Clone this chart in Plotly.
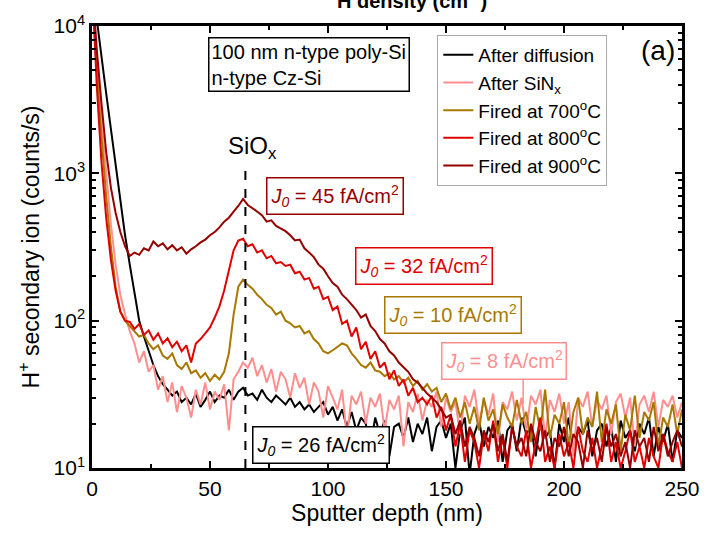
import plotly.graph_objects as go

# Sputter depth grid (nm)
depth = list(range(0, 251, 2))

after_diffusion = [
    20000, 11500, 6300, 3500, 2000, 1150, 640, 380, 240, 150,
    100, 78, 62, 50, 42, 37, 34, 31, 33, 28,
    30, 27, 32, 26, 29, 33, 28, 31, 30, 34,
    29, 33, 35, 31, 32, 29, 34, 30, 28, 31,
    29, 27, 30, 26, 28, 25, 27, 24, 26, 28,
    23, 26, 21, 25, 19, 24, 18, 22, 20, 14,
    22, 17, 21, 12, 19, 20, 16, 22, 15, 20,
    17, 22, 13, 19, 21, 16, 20, 10, 18, 22,
    9, 17, 21, 14, 19, 16, 21, 11, 18, 20,
    13, 22, 17, 19, 12, 21, 16, 18, 10, 20,
    15, 22, 13, 19, 17, 21, 12, 18, 20, 14,
    19, 11, 21, 16, 18, 13, 20, 17, 22, 12,
    19, 15, 20, 11, 18, 16]

after_sinx = [
    20000, 6000, 2300, 950, 450, 240, 150, 110, 85, 70,
    52, 62, 45, 50, 34, 42, 28, 38, 24, 36,
    30, 22, 34, 27, 38, 25, 33, 29, 37, 18,
    40, 45, 52, 48, 56, 42, 50, 38, 47, 33,
    45, 40, 30, 44, 35, 41, 27, 38, 33, 22,
    36, 30, 25, 34, 16, 31, 27, 33, 20, 30,
    26, 32, 18, 29, 25, 31, 14, 28, 24, 32,
    21, 29, 26, 33, 19, 30, 24, 28, 17, 31,
    26, 34, 20, 29, 23, 32, 15, 28, 25, 33,
    21, 30, 18, 31, 27, 34, 16, 29, 24, 32,
    20, 28, 12, 30, 26, 33, 19, 29, 25, 31,
    17, 28, 32, 22, 30, 14, 27, 31, 24, 33,
    19, 29, 26, 31, 22, 28]

fired_700 = [
    20000, 5000, 1800, 700, 320, 170, 115, 100, 92, 85,
    78, 80, 70, 64, 68, 58, 55, 60, 50, 47,
    52, 44, 46, 41, 44, 39, 43, 40, 45, 60,
    110, 170, 190, 175, 165, 150, 140, 128, 122, 110,
    115, 100, 96, 90, 92, 82, 85, 75, 70, 62,
    60, 63, 66, 70, 68, 60, 55, 50, 48, 52,
    46, 45, 42, 44, 40, 42, 38, 41, 36, 39,
    34, 37, 33, 35, 28, 32, 25, 30, 22, 28,
    20, 26, 18, 30, 21, 25, 17, 27, 22, 19,
    29, 20, 24, 15, 26, 18, 34, 16, 23, 20,
    28, 14, 24, 30, 17, 22, 19, 33, 15, 25,
    20, 27, 13, 23, 18, 31, 16, 24, 21, 28,
    14, 22, 19, 27, 17, 25]

fired_800 = [
    20000, 4000, 1200, 500, 260, 160, 115, 100, 98, 88,
    95, 80, 86, 74, 82, 70, 76, 66, 72, 62,
    68, 52, 70, 75, 82, 90, 105, 125, 160, 215,
    300, 350, 360, 320, 330, 290, 300, 265, 275, 245,
    250, 235, 240, 210, 215, 190, 195, 165, 170, 140,
    145, 118, 125, 95, 100, 78, 90, 64, 72, 55,
    62, 48, 52, 40, 46, 36, 40, 31, 35, 28,
    30, 27, 31, 22, 26, 18, 23, 14, 20, 11,
    18, 15, 10, 17, 13, 21, 11, 16, 10, 19,
    14, 12, 18, 10, 15, 22, 11, 14, 10, 17,
    12, 15, 10, 19, 13, 11, 16, 10, 14, 20,
    11, 15, 10, 13, 18, 11, 14, 10, 16, 12,
    10, 17, 13, 11, 15, 10]

fired_900 = [
    20000, 7000, 3000, 1400, 800, 540, 400, 320, 275, 290,
    280, 310, 300, 345, 320, 335, 305, 325, 300, 315,
    285, 305, 320, 340, 355, 380, 400, 430, 470, 500,
    550, 600, 670, 610, 580, 545, 520, 470, 480, 440,
    420, 405, 380, 350, 355, 310, 290, 270, 240, 225,
    200, 180, 170, 150, 140, 128, 118, 105, 110, 92,
    85, 75, 70, 62, 58, 52, 48, 45, 40, 38,
    35, 32, 30, 28, 25, 22, 23, 17, 21, 14,
    19, 16, 12, 18, 15, 20, 13, 17, 11, 19,
    14, 16, 12, 20, 15, 13, 18, 11, 16, 14,
    19, 12, 17, 15, 10, 18, 13, 16, 11, 19,
    14, 17, 12, 15, 10, 18, 14, 16, 11, 19,
    13, 17, 12, 15, 18, 14]

series_names = ["After diffusion", "After SiN<sub>x</sub>", "Fired at 700<sup>o</sup>C",
                "Fired at 800<sup>o</sup>C", "Fired at 900<sup>o</sup>C"]
series_values = [after_diffusion, after_sinx, fired_700, fired_800, fired_900]
series_colors = ["#000000", "#FF8F8F", "#A87800", "#E00000", "#960000"]

y_tick_vals = [10, 100, 1000, 10000]
y_tick_text = ["10<sup>1</sup>", "10<sup>2</sup>", "10<sup>3</sup>", "10<sup>4</sup>"]

j0_labels = ["45", "32", "10", "8", "26"]

FONT = "Liberation Sans, Arial, sans-serif"

# plot area in pixels
L, R, T, B = 92, 690, 22, 470
W, H = 712, 534


def px(xp):
    return (xp - L) / (R - L)


def py(yp):
    return (B - yp) / (B - T)


fig = go.Figure()
for name, vals, col in zip(series_names, series_values, series_colors):
    fig.add_trace(go.Scatter(x=depth, y=vals, mode="lines", name=name,
                             line=dict(color=col, width=2)))

axis_common = dict(showline=True, linecolor="black", linewidth=2.5, mirror="ticks",
                   ticks="inside", tickcolor="black", tickwidth=2, ticklen=7,
                   showgrid=False, zeroline=False,
                   tickfont=dict(family=FONT, size=21, color="black"))

fig.update_xaxes(range=[0, 250], dtick=50, tick0=0,
                 title=dict(text="Sputter depth (nm)", font=dict(family=FONT, size=23, color="black"),
                            standoff=6),
                 minor=dict(ticks="inside", dtick=25, ticklen=4, tickcolor="black", tickwidth=1.5),
                 **axis_common)
fig.update_yaxes(type="log", range=[1, 4], tickvals=y_tick_vals, ticktext=y_tick_text,
                 title=dict(text="H<sup>+</sup> secondary ion (counts/s)",
                            font=dict(family=FONT, size=23, color="black"), standoff=8),
                 minor=dict(ticks="inside", dtick="D1", ticklen=4, tickcolor="black", tickwidth=1.5),
                 **axis_common)

fig.update_layout(
    width=W, height=H,
    margin=dict(l=L, r=W - R, t=T, b=H - B),
    plot_bgcolor="white", paper_bgcolor="white",
    font=dict(family=FONT, size=20, color="black"),
    legend=dict(x=px(442), y=py(31), xanchor="left", yanchor="top",
                bgcolor="white", bordercolor="#aaaaaa", borderwidth=1,
                font=dict(family=FONT, size=19, color="black")),
)

# SiOx dashed marker
fig.add_shape(type="line", xref="x", yref="paper", x0=65, x1=65, y0=0, y1=py(160),
              line=dict(color="black", width=2, dash="dash"))
fig.add_annotation(xref="x", yref="paper", x=68, y=py(145), xanchor="center", yanchor="middle",
                   text="SiO<sub>x</sub>", showarrow=False,
                   font=dict(family=FONT, size=24, color="black"))

# sample description box
fig.add_annotation(xref="paper", yref="paper", x=px(210), y=py(33), xanchor="left", yanchor="top",
                   text="100 nm n-type poly-Si<br>n-type Cz-Si", align="left", showarrow=False,
                   bordercolor="black", borderwidth=1.5, borderpad=2, bgcolor="white",
                   font=dict(family=FONT, size=20, color="black"))

# panel label
fig.add_annotation(xref="paper", yref="paper", x=px(666), y=py(47), xanchor="center", yanchor="middle",
                   text="(a)", showarrow=False,
                   font=dict(family=FONT, size=28, color="black"))

# J0 boxes
j0_pos = [(338, 194), (429, 265), (458, 315), (510, 362), (324, 447)]
j0_cols = ["#960000", "#E00000", "#A87800", "#FF8F8F", "#000000"]
for lab, (cx, cy), col in zip(j0_labels, j0_pos, j0_cols):
    fig.add_annotation(xref="paper", yref="paper", x=px(cx), y=py(cy),
                       xanchor="center", yanchor="middle",
                       text="<i>J</i><sub><i>0</i></sub> = " + lab + " fA/cm<sup>2</sup>",
                       showarrow=False, bordercolor=col, borderwidth=1.5, borderpad=3,
                       bgcolor="white", font=dict(family=FONT, size=20, color=col))

# pointer of pink box
fig.add_shape(type="line", xref="paper", yref="paper", x0=px(529), x1=px(529),
              y0=py(405), y1=py(379), line=dict(color="#FF8F8F", width=1.5))

# clipped top title (secondary axis)
fig.add_annotation(xref="paper", yref="paper", x=px(416), y=1, xanchor="center", yanchor="bottom",
                   yshift=12, text="<b>H density (cm<sup>-3</sup>)</b>", showarrow=False,
                   font=dict(family=FONT, size=20, color="black"))

fig.write_html("out.html")
